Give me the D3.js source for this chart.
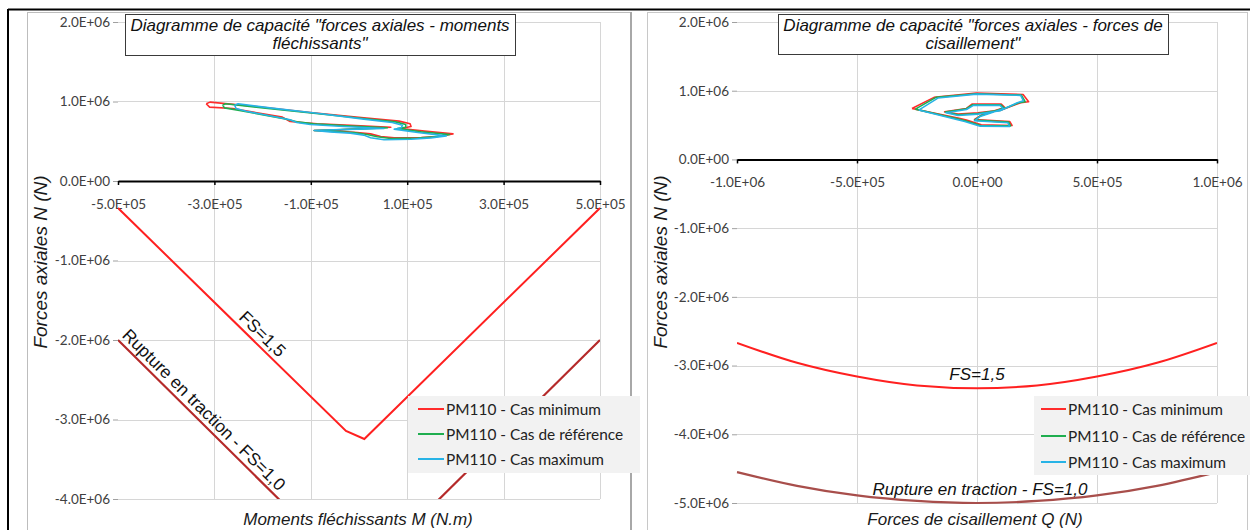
<!DOCTYPE html>
<html><head><meta charset="utf-8">
<script src="https://cdn.jsdelivr.net/npm/d3@7"></script>
<style>body{margin:0;background:#fff;} svg{display:block;}</style>
</head><body><svg id="c" width="1250" height="530"></svg>
<script>
// ---------- DATA ----------
const momentTicks = [-5e5, -3e5, -1e5, 1e5, 3e5, 5e5];
const axialTicksLeft = [2e6, 1e6, 0, -1e6, -2e6, -3e6, -4e6];
const shearTicks = [-1e6, -5e5, 0, 5e5, 1e6];
const axialTicksRight = [2e6, 1e6, 0, -1e6, -2e6, -3e6, -4e6, -5e6];

const legendLabels = ["PM110 - Cas minimum", "PM110 - Cas de référence", "PM110 - Cas maximum"];
const seriesColors = ["#ff2b2b", "#1fae4f", "#27b3e6"];

const titleLeft = ["Diagramme de capacité \"forces axiales - moments", "fléchissants\""];
const titleRight = ["Diagramme de capacité \"forces axiales - forces de", "cisaillement\""];
const xTitleLeft = "Moments fléchissants M (N.m)";
const xTitleRight = "Forces de cisaillement Q (N)";
const yTitle = "Forces axiales N (N)";
const labelFS15 = "FS=1,5";
const labelRupture = "Rupture en traction - FS=1,0";

// capacity envelopes (M or Q, N)
const fs15Moment = [[-5e5, -0.34e6], [-2.7e4, -3.145e6], [1.1e4, -3.245e6], [5e5, -0.34e6]];
const ruptureMoment = [[-5e5, -2.0e6], [0, -5.0e6], [5e5, -2.0e6]];
const fs15Shear = [[-1e6, -2.67e6], [-7.5e5, -2.96e6], [-5e5, -3.16e6], [-2.5e5, -3.29e6], [0, -3.33e6],
                   [2.5e5, -3.29e6], [5e5, -3.16e6], [7.5e5, -2.96e6], [1e6, -2.67e6]];
const ruptureShear = [[-1e6, -4.55e6], [-7.5e5, -4.75e6], [-5e5, -4.89e6], [-2.5e5, -4.97e6], [0, -5.0e6],
                      [2.5e5, -4.97e6], [5e5, -4.89e6], [7.5e5, -4.75e6], [1e6, -4.55e6]];

// PM110 paths: moment (N.m), axial force (N)
const mnMinimum = [[-317e3,971e3],[-309e3,992e3],[-213e3,937e3],[-101e3,862e3],[10e3,795e3],[83e3,753e3],[106e3,719e3],[108e3,686e3],[87e3,660e3],[136e3,627e3],[195e3,593e3],[163e3,560e3],[129e3,547e3],[73e3,543e3],[45e3,560e3],[24e3,593e3],[-4e3,610e3],[-46e3,627e3],[-93e3,635e3],[-39e3,644e3],[10e3,660e3],[66e3,677e3],[-18e3,702e3],[-87e3,719e3],[-143e3,748e3],[-159e3,803e3],[-262e3,912e3],[-310e3,929e3],[-317e3,971e3]];
const mnReference = [[-283e3,954e3],[-277e3,971e3],[-199e3,920e3],[-94e3,853e3],[10e3,786e3],[76e3,744e3],[97e3,711e3],[97e3,677e3],[80e3,660e3],[129e3,618e3],[188e3,585e3],[156e3,556e3],[122e3,539e3],[66e3,535e3],[38e3,556e3],[17e3,585e3],[-11e3,610e3],[-53e3,623e3],[-93e3,635e3],[-46e3,644e3],[3e3,656e3],[59e3,669e3],[-25e3,694e3],[-94e3,719e3],[-129e3,744e3],[-150e3,778e3],[-248e3,887e3],[-279e3,920e3],[-283e3,954e3]];
const mnMaximum = [[-258e3,954e3],[-251e3,971e3],[-185e3,920e3],[-87e3,853e3],[10e3,778e3],[69e3,736e3],[90e3,702e3],[88e3,669e3],[73e3,652e3],[122e3,610e3],[181e3,568e3],[149e3,543e3],[108e3,526e3],[52e3,518e3],[24e3,543e3],[10e3,577e3],[-18e3,602e3],[-60e3,618e3],[-93e3,635e3],[-53e3,644e3],[-4e3,652e3],[52e3,660e3],[-32e3,686e3],[-101e3,711e3],[-129e3,736e3],[-143e3,770e3],[-234e3,878e3],[-255e3,912e3],[-258e3,954e3]];

// PM110 paths: shear force (N), axial force (N)
const qnMinimum = [[-271e3,742e3],[-179e3,903e3],[-3e3,966e3],[192e3,946e3],[215e3,839e3],[182e3,825e3],[101e3,718e3],[4e3,679e3],[-79e3,659e3],[-135e3,693e3],[-44e3,742e3],[-21e3,805e3],[101e3,805e3],[115e3,757e3],[18e3,645e3],[-10e3,582e3],[136e3,552e3],[146e3,494e3],[18e3,504e3],[-44e3,572e3],[-79e3,601e3],[-271e3,742e3]];
const qnReference = [[-257e3,732e3],[-171e3,903e3],[-3e3,956e3],[185e3,937e3],[201e3,839e3],[174e3,825e3],[99e3,718e3],[4e3,669e3],[-79e3,650e3],[-132e3,689e3],[-44e3,737e3],[-18e3,796e3],[99e3,796e3],[113e3,747e3],[15e3,635e3],[-10e3,572e3],[132e3,543e3],[140e3,489e3],[15e3,494e3],[-49e3,562e3],[-82e3,591e3],[-257e3,732e3]];
const qnMaximum = [[-243e3,718e3],[-163e3,893e3],[-3e3,951e3],[182e3,932e3],[193e3,854e3],[168e3,825e3],[96e3,708e3],[4e3,659e3],[-79e3,640e3],[-129e3,679e3],[-44e3,727e3],[-15e3,786e3],[96e3,786e3],[110e3,737e3],[13e3,625e3],[-10e3,562e3],[129e3,533e3],[136e3,479e3],[13e3,484e3],[-51e3,552e3],[-85e3,582e3],[-243e3,718e3]];

// ---------- DRAW ----------
const svg = d3.select("#c");
const FONT = "Lato, 'Liberation Sans', sans-serif";
const ARIAL = "'Liberation Sans', Arial, sans-serif";

function sci(d) {
  if (d === 0) return "0.0E+00";
  const e = Math.floor(Math.log10(Math.abs(d)) + 1e-9);
  const m = d / Math.pow(10, e);
  return m.toFixed(1) + "E" + (e < 0 ? "-" : "+") + String(Math.abs(e)).padStart(2, "0");
}

// outer frame
svg.append("line").attr("x1", 8).attr("x2", 1250).attr("y1", 9.5).attr("y2", 9.5).attr("stroke", "#000").attr("stroke-width", 2);
svg.append("line").attr("x1", 8).attr("x2", 8).attr("y1", 9).attr("y2", 530).attr("stroke", "#000").attr("stroke-width", 2);
// panel borders
svg.append("rect").attr("x", 27.5).attr("y", 12.5).attr("width", 604).attr("height", 530).attr("fill", "none").attr("stroke", "#bdbdbd");
svg.append("line").attr("x1", 631).attr("x2", 631).attr("y1", 12).attr("y2", 530).attr("stroke", "#a8a8a8").attr("stroke-width", 2);
svg.append("rect").attr("x", 647.5).attr("y", 12.5).attr("width", 600).attr("height", 530).attr("fill", "none").attr("stroke", "#c8c8c8");

function panel(cfg) {
  const { id, x, y, xTicks, yTicks } = cfg;
  const g = svg.append("g");
  const [x0, x1] = x.range(), [y0, y1] = y.range();
  g.append("clipPath").attr("id", id).append("rect")
    .attr("x", x0).attr("y", y0).attr("width", x1 - x0).attr("height", y1 - y0);

  // gridlines
  g.selectAll(".vg").data(xTicks.slice(1)).join("line")
    .attr("x1", d => Math.round(x(d)) + 0.5).attr("x2", d => Math.round(x(d)) + 0.5)
    .attr("y1", y0).attr("y2", y1).attr("stroke", "#d6d6d6");
  g.selectAll(".hg").data(yTicks.filter(d => d !== 0)).join("line")
    .attr("x1", x0).attr("x2", x1)
    .attr("y1", d => Math.round(y(d)) + 0.5).attr("y2", d => Math.round(y(d)) + 0.5)
    .attr("stroke", "#d6d6d6");

  // y axis
  const ya = g.append("g").attr("transform", `translate(${x0},0)`)
    .call(d3.axisLeft(y).tickValues(yTicks).tickFormat(sci).tickSize(5).tickPadding(3));
  ya.select(".domain").remove();
  ya.selectAll(".tick line").attr("stroke", "#a0a0a0");
  ya.selectAll("text").attr("font-family", FONT).attr("font-size", 13.5).attr("fill", "#404040");

  // x axis at N = 0
  const xa = g.append("g").attr("transform", `translate(0,${y(0)})`)
    .call(d3.axisBottom(x).tickValues(xTicks).tickFormat(sci).tickSize(4).tickSizeOuter(0).tickPadding(14));
  xa.select(".domain").attr("stroke", "#000").attr("stroke-width", 2);
  xa.selectAll(".tick line").attr("stroke", "#000").attr("stroke-width", 1.5);
  xa.selectAll("text").attr("font-family", FONT).attr("font-size", 13.5).attr("fill", "#404040");

  // axis titles
  g.append("text").attr("transform", `translate(${cfg.yTitleX},${cfg.yTitleY}) rotate(-90)`)
    .attr("text-anchor", "middle").attr("font-family", ARIAL).attr("font-style", "italic")
    .attr("font-size", 19).attr("fill", "#1a1a1a").text(yTitle);
  g.append("text").attr("x", cfg.xTitleX).attr("y", cfg.xTitleY)
    .attr("text-anchor", "middle").attr("font-family", ARIAL).attr("font-style", "italic")
    .attr("font-size", 17).attr("fill", "#1a1a1a").text(cfg.xTitle);

  const line = d3.line().x(d => x(d[0])).y(d => y(d[1]));
  const plot = g.append("g").attr("clip-path", `url(#${id})`);
  return { g, plot, line, x, y };
}

function titleBox(g, bx, by, bw, bh, lines) {
  g.append("rect").attr("x", bx + 0.5).attr("y", by + 0.5).attr("width", bw).attr("height", bh)
    .attr("fill", "#fff").attr("stroke", "#3a3a3a");
  g.selectAll(null).data(lines).join("text")
    .attr("x", bx + bw / 2).attr("y", (d, i) => by + 17 + i * 18)
    .attr("text-anchor", "middle").attr("font-family", ARIAL).attr("font-style", "italic")
    .attr("font-size", 17).attr("fill", "#111").text(d => d);
}

function legend(g, lx, ly, lw, lh, rowY, sx0, sx1) {
  g.append("rect").attr("x", lx).attr("y", ly).attr("width", lw).attr("height", lh).attr("fill", "#f2f2f2");
  const rows = g.selectAll(null).data(legendLabels).join("g");
  rows.append("line").attr("x1", sx0).attr("x2", sx1)
    .attr("y1", (d, i) => rowY[i]).attr("y2", (d, i) => rowY[i])
    .attr("stroke", (d, i) => seriesColors[i]).attr("stroke-width", 2);
  rows.append("text").attr("x", sx1 + 2).attr("y", (d, i) => rowY[i] + 5.5)
    .attr("font-family", FONT).attr("font-size", 15.4).attr("fill", "#222").text(d => d);
}

// ---------- LEFT: N - M ----------
const L = panel({
  id: "clipL",
  x: d3.scaleLinear().domain([-5e5, 5e5]).range([118, 600]),
  y: d3.scaleLinear().domain([2e6, -4e6]).range([22, 499]),
  xTicks: momentTicks, yTicks: axialTicksLeft,
  yTitleX: 47, yTitleY: 262, xTitleX: 358, xTitleY: 525, xTitle: xTitleLeft
});
L.plot.append("path").datum(ruptureMoment).attr("d", L.line).attr("fill", "none")
  .attr("stroke", "#b52a2a").attr("stroke-width", 2.2);
L.plot.append("path").datum(fs15Moment).attr("d", L.line).attr("fill", "none")
  .attr("stroke", "#ff2020").attr("stroke-width", 2);
[mnMinimum, mnReference, mnMaximum].forEach((s, i) => {
  L.plot.append("path").datum(s).attr("d", L.line).attr("fill", "none")
    .attr("stroke", seriesColors[i]).attr("stroke-width", 1.6).attr("stroke-linejoin", "round");
});
function alongLabel(P, seg, frac, txt, off) {
  const p1 = seg[0], p2 = seg[1];
  const sx1 = P.x(p1[0]), sy1 = P.y(p1[1]), sx2 = P.x(p2[0]), sy2 = P.y(p2[1]);
  const ang = Math.atan2(sy2 - sy1, sx2 - sx1) * 180 / Math.PI;
  const cx = sx1 + (sx2 - sx1) * frac, cy = sy1 + (sy2 - sy1) * frac;
  P.g.append("text").attr("transform", `translate(${cx},${cy}) rotate(${ang})`)
    .attr("y", off).attr("text-anchor", "middle").attr("font-family", ARIAL)
    .attr("font-size", 17.5).attr("fill", "#111").text(txt);
}
alongLabel(L, [fs15Moment[0], fs15Moment[1]], 0.60, labelFS15, -5);
alongLabel(L, [ruptureMoment[0], ruptureMoment[1]], 0.325, labelRupture, -5);
titleBox(L.g, 125, 14, 390, 41, titleLeft);
legend(L.g, 408, 396, 232, 77, [409, 434, 459], 418, 444);

// ---------- RIGHT: N - Q ----------
const R = panel({
  id: "clipR",
  x: d3.scaleLinear().domain([-1e6, 1e6]).range([737, 1217]),
  y: d3.scaleLinear().domain([2e6, -5e6]).range([22, 503]),
  xTicks: shearTicks, yTicks: axialTicksRight,
  yTitleX: 667, yTitleY: 262, xTitleX: 975, xTitleY: 525, xTitle: xTitleRight
});
const curve = d3.line().curve(d3.curveMonotoneX).x(d => R.x(d[0])).y(d => R.y(d[1]));
R.g.append("path").datum(ruptureShear).attr("d", curve).attr("fill", "none")
  .attr("stroke", "#a84e4b").attr("stroke-width", 2.2);
R.plot.append("path").datum(fs15Shear).attr("d", curve).attr("fill", "none")
  .attr("stroke", "#ff2020").attr("stroke-width", 2);
[qnMinimum, qnReference, qnMaximum].forEach((s, i) => {
  R.plot.append("path").datum(s).attr("d", R.line).attr("fill", "none")
    .attr("stroke", seriesColors[i]).attr("stroke-width", 1.6).attr("stroke-linejoin", "round");
});
R.g.append("text").attr("x", R.x(0)).attr("y", 380).attr("text-anchor", "middle")
  .attr("font-family", ARIAL).attr("font-style", "italic").attr("font-size", 17).attr("fill", "#111").text(labelFS15);
R.g.append("text").attr("x", 980).attr("y", 495).attr("text-anchor", "middle")
  .attr("font-family", ARIAL).attr("font-style", "italic").attr("font-size", 17).attr("fill", "#111").text(labelRupture);
titleBox(R.g, 778, 14, 390, 40, titleRight);
legend(R.g, 1034, 396, 216, 79, [409, 436, 462], 1041, 1066);
</script></body></html>
